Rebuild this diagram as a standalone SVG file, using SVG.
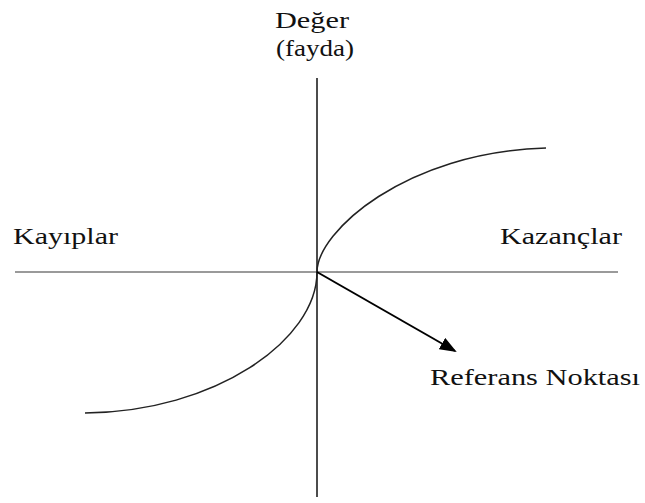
<svg xmlns="http://www.w3.org/2000/svg" width="645" height="503" viewBox="0 0 645 503">
<style>
text{font-family:"Liberation Serif","Times New Roman",serif;font-size:24px;fill:#111}
.ax{stroke:#111;stroke-width:1.5;fill:none}
.hx{stroke:#9a9a9a;stroke-width:2;fill:none}
.cv{stroke:#222;stroke-width:1.5;fill:none}
</style>
<defs>
<marker id="ah" markerWidth="18" markerHeight="13" refX="15" refY="6.5" orient="auto" markerUnits="userSpaceOnUse">
<path d="M0,0 L17,6.5 L0,13 Z" fill="#000"/>
</marker>
</defs>
<g id="labels">
<text x="275" y="28" textLength="74" lengthAdjust="spacingAndGlyphs">Değer</text>
<text x="276" y="56" textLength="78" lengthAdjust="spacingAndGlyphs">(fayda)</text>
<text x="13" y="244" textLength="105" lengthAdjust="spacingAndGlyphs">Kayıplar</text>
<text x="500" y="244" textLength="122" lengthAdjust="spacingAndGlyphs">Kazançlar</text>
<text x="430" y="385" textLength="210" lengthAdjust="spacingAndGlyphs">Referans Noktası</text>
</g>
<g id="axes">
<line class="hx" x1="15" y1="272" x2="618" y2="272"/>
<line class="ax" x1="317" y1="78" x2="317" y2="497"/>
</g>
<g id="curve">
<path class="cv" d="M317,272 C317,232 405,152 546,148"/>
<path class="cv" d="M317,272 C317,340 215,412 85,413"/>
</g>
<g id="connectors">
<line x1="317" y1="272" x2="455" y2="351" stroke="#000" stroke-width="2" marker-end="url(#ah)"/>
</g>
</svg>
